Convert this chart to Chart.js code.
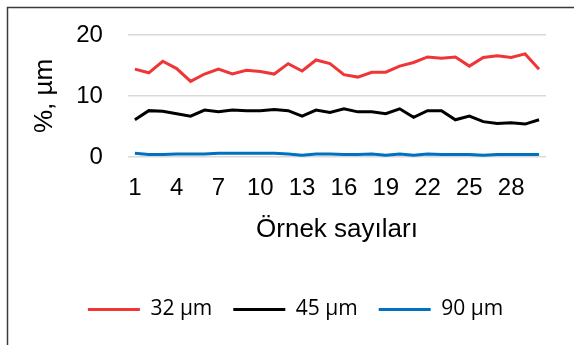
<!DOCTYPE html>
<html>
<head>
<meta charset="utf-8">
<script src="https://cdn.jsdelivr.net/npm/chart.js@4/dist/chart.umd.min.js"></script>
<style>
  html, body { margin: 0; padding: 0; background: #fff; }
  #wrap { position: relative; width: 574px; height: 345px; }
</style>
</head>
<body>
<div id="wrap"><canvas id="c" width="574" height="345"></canvas></div>
<script>
const categories = ['1','2','3','4','5','6','7','8','9','10','11','12','13','14','15','16','17','18','19','20','21','22','23','24','25','26','27','28','29','30'];
const series32 = [14.4,13.8,15.7,14.5,12.4,13.6,14.4,13.6,14.2,14.0,13.6,15.3,14.1,15.9,15.3,13.5,13.1,13.9,13.9,14.9,15.5,16.4,16.2,16.4,14.9,16.3,16.6,16.3,16.9,14.4];
const series45 = [6.1,7.6,7.5,7.1,6.7,7.7,7.4,7.7,7.6,7.6,7.8,7.6,6.7,7.7,7.3,7.9,7.4,7.4,7.1,7.9,6.5,7.6,7.6,6.1,6.7,5.8,5.5,5.6,5.4,6.1];
const series90 = [0.6,0.4,0.4,0.5,0.5,0.5,0.6,0.6,0.6,0.6,0.6,0.5,0.3,0.5,0.5,0.4,0.4,0.5,0.3,0.5,0.3,0.5,0.4,0.4,0.4,0.3,0.4,0.4,0.4,0.4];
const seriesNames = ['32 µm','45 µm','90 µm'];
const yTicks = [0,10,20];

const framePlugin = {
  id: 'frame',
  beforeDraw(chart) {
    const ctx = chart.ctx;
    ctx.save();
    ctx.strokeStyle = '#3a3a3a';
    ctx.lineWidth = 1.5;
    ctx.beginPath();
    ctx.moveTo(7.5, 345);
    ctx.lineTo(7.5, 7.5);
    ctx.lineTo(574, 7.5);
    ctx.stroke();
    ctx.restore();
  }
};

const legendShift = {
  id: 'legendShift',
  afterLayout(chart) {
    const lg = chart.legend;
    if (lg) { lg.left += 9; lg.right += 9; }
  }
};

new Chart(document.getElementById('c'), {
  type: 'line',
  data: {
    labels: categories,
    datasets: [
      { label: seriesNames[0], data: series32, borderColor: '#EF3535', backgroundColor: '#EF3535', borderWidth: 3, pointRadius: 0, tension: 0 },
      { label: seriesNames[1], data: series45, borderColor: '#000000', backgroundColor: '#000000', borderWidth: 3, pointRadius: 0, tension: 0 },
      { label: seriesNames[2], data: series90, borderColor: '#0070C0', backgroundColor: '#0070C0', borderWidth: 3, pointRadius: 0, tension: 0 }
    ]
  },
  options: {
    responsive: false,
    animation: false,
    devicePixelRatio: 1,
    layout: { padding: { left: 27, right: 28, top: 35, bottom: 15 } },
    scales: {
      x: {
        type: 'category',
        offset: true,
        grid: { display: false, drawTicks: false },
        border: { display: false },
        ticks: {
          autoSkip: false, maxRotation: 0, minRotation: 0, padding: 17,
          color: '#000', font: { family: 'Liberation Sans', size: 24 },
          callback: function(v, i) { return i % 3 === 0 ? categories[i] : ''; }
        },
        title: { display: true, text: 'Örnek sayıları', color: '#000', font: { family: 'Liberation Sans', size: 26 }, padding: { top: -6, bottom: 33 } }
      },
      y: {
        min: 0, max: 20,
        afterBuildTicks: function(scale) { scale.ticks = yTicks.map(v => ({ value: v })); },
        grid: { color: '#d9d9d9', lineWidth: 1.5, drawTicks: true, tickLength: 25, tickColor: 'rgba(0,0,0,0)' },
        border: { display: false },
        ticks: { padding: 0, color: '#000', font: { family: 'Liberation Sans', size: 24 } },
        title: { display: true, text: '%, µm', color: '#000', font: { family: 'Liberation Sans', size: 26 }, padding: { top: 2, bottom: 16 } }
      }
    },
    plugins: {
      legend: {
        position: 'bottom',
        labels: {
          boxWidth: 52, boxHeight: 3,
          padding: 21, color: '#000',
          font: { family: 'Open Sans', size: 21 },
          generateLabels: function(chart) {
            const items = Chart.defaults.plugins.legend.labels.generateLabels(chart);
            items.forEach(it => { it.lineWidth = 0; });
            return items;
          }
        }
      },
      tooltip: { enabled: false }
    }
  },
  plugins: [framePlugin, legendShift]
});
</script>
</body>
</html>
